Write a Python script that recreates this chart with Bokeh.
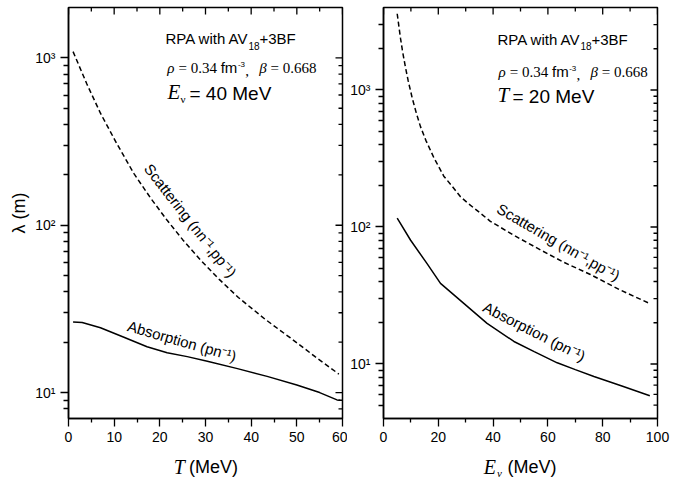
import math
from bokeh.plotting import figure
from bokeh.models import Label, FixedTicker, Range1d
from bokeh.layouts import row, column
from bokeh.embed import file_html
from bokeh.resources import INLINE

# ---------------- data ----------------
# Left panel: E_nu = 40 MeV, lambda vs T
T_scat = [1, 4, 7, 10.5, 14.3, 18, 21.6, 25, 28.9, 33, 37.2, 43, 48.6, 54, 59.2]
lam_scat_T = [1090, 700, 467, 310, 204, 145, 107, 82, 62, 47.5, 37.0, 27.5, 21.2, 16.4, 12.9]
T_abs = [1, 3, 7, 12, 17.2, 21.6, 26, 30.4, 37, 43.5, 50, 55, 58.8, 59.5]
lam_abs_T = [26.4, 26.2, 24.4, 21.5, 18.8, 17.3, 16.4, 15.4, 13.9, 12.5, 11.1, 10.0, 9.04, 9.0]

# Right panel: T = 20 MeV, lambda vs E_nu
E_scat = [5, 6.2, 7, 8, 9, 10.5, 12, 13.5, 15.5, 18.4, 22, 25, 28.1, 31, 35.4, 39, 48,
          57.3, 66, 75.5, 86, 97]
lam_scat_E = [3600, 2390, 1890, 1470, 1170, 870, 676, 540, 427, 320, 235, 199, 166, 148,
              126, 110, 86, 68, 55, 45, 35, 27.7]
E_abs = [5, 9.9, 15.9, 20.8, 29.3, 37.8, 47.6, 55, 63.4, 70, 76.8, 87, 97.2]
lam_abs_E = [116, 80, 54, 38.8, 27.7, 19.8, 14.6, 12.3, 10.2, 9.1, 8.1, 6.9, 5.87]

left_xticks = [0, 10, 20, 30, 40, 50, 60]
left_xminor = [5, 15, 25, 35, 45, 55]
right_xticks = [0, 20, 40, 60, 80, 100]
right_xminor = [10, 30, 50, 70, 90]
yticks = [10, 100, 1000]
ytick_labels = {10: "10¹", 100: "10²", 1000: "10³"}

SANS = "Liberation Sans"
SERIF = "Liberation Serif"
FRAME_TOP = 7
FRAME_BOTTOM = 418
H_MAIN = 449          # main figure height (frame 7..418 + tick labels)
H_TITLE = 29          # strip below holding the x-axis titles
W_L, W_R = 347, 340
BL_L, BR_L = 68, 5    # left figure borders  -> frame 68..342
BL_R, BR_R = 36, 30   # right figure borders -> frame 383..657


def minor_log(lo, hi):
    out = []
    for dec in [1, 10, 100, 1000]:
        for m in range(2, 10):
            v = m * dec
            if lo < v < hi:
                out.append(v)
    return out


def make_fig(width, bl, br, xr, yr, xt, xm):
    p = figure(width=width, height=H_MAIN, x_range=Range1d(*xr), y_range=Range1d(*yr),
               y_axis_type="log", output_backend="svg", toolbar_location=None,
               min_border_left=bl, min_border_right=br, min_border_top=FRAME_TOP,
               min_border_bottom=H_MAIN - FRAME_BOTTOM)
    p.grid.visible = False
    p.background_fill_color = "white"
    p.border_fill_color = "white"
    p.outline_line_color = "black"
    p.outline_line_width = 1.5
    ym = minor_log(*yr)
    xa = p.xaxis[0]
    xa.ticker = FixedTicker(ticks=xt, minor_ticks=xm)
    ya = p.yaxis[0]
    ya.ticker = FixedTicker(ticks=yticks, minor_ticks=ym)
    ya.major_label_overrides = ytick_labels
    for ax in (xa, ya):
        ax.axis_line_width = 1.5
        ax.major_tick_line_width = 1.3
        ax.minor_tick_line_width = 1.3
        ax.major_tick_out = 8
        ax.major_tick_in = 0
        ax.minor_tick_in = 0
        ax.major_label_text_font = SANS
        ax.major_label_text_font_size = "14px"
        ax.major_label_text_color = "black"
        ax.major_label_standoff = 5
    xa.minor_tick_out = 4
    ya.minor_tick_out = 5
    # mirrored inward ticks on the top and right edges
    ymax = yr[1]
    xmax = xr[1]
    p.ray(x=xt, y=[ymax] * len(xt), length=7, length_units="screen",
          angle=-math.pi / 2, line_color="black", line_width=1.3)
    p.ray(x=xm, y=[ymax] * len(xm), length=4, length_units="screen",
          angle=-math.pi / 2, line_color="black", line_width=1.3)
    p.ray(x=[xmax] * len(yticks), y=yticks, length=7, length_units="screen",
          angle=math.pi, line_color="black", line_width=1.3)
    p.ray(x=[xmax] * len(ym), y=ym, length=4, length_units="screen",
          angle=math.pi, line_color="black", line_width=1.3)
    return p


def desc(font):
    return 0.216 if font == SERIF else 0.212


def lab(p, X0, X, Y, text, font=SANS, size=15, style="normal", angle=0.0,
        align="left", baseline="base"):
    # Y is the alphabetic baseline (page px) unless baseline == "middle"
    if baseline == "base":
        yy = FRAME_BOTTOM - (Y + desc(font) * size)
        tb = "bottom"
    else:
        yy = FRAME_BOTTOM - Y
        tb = baseline
    p.add_layout(Label(x=X - X0, y=yy, x_units="screen", y_units="screen",
                       text=text, text_font=font, text_font_size=f"{size}px",
                       text_font_style=style, text_color="black",
                       angle=math.radians(angle), text_align=align,
                       text_baseline=tb))


def title_strip(width, bl, br):
    # frame of the strip is aligned with the main frame above it, so its
    # x data range is the page-x span of that frame
    page_left = (0 if bl == BL_L else W_L) + bl
    page_right = page_left + (width - bl - br)
    t = figure(width=width, height=H_TITLE, x_range=Range1d(page_left, page_right),
               y_range=Range1d(H_MAIN + H_TITLE, H_MAIN), output_backend="svg",
               toolbar_location=None, x_axis_location=None, y_axis_location=None,
               min_border=0, min_border_left=bl, min_border_right=br,
               min_border_top=0, min_border_bottom=0)
    t.grid.visible = False
    t.outline_line_color = None
    t.background_fill_color = "white"
    t.border_fill_color = "white"
    return t


def tlab(t, X, Y, text, font, size, style="normal"):
    t.add_layout(Label(x=X, y=Y + desc(font) * size, text=text, text_font=font,
                       text_font_size=f"{size}px", text_font_style=style,
                       text_color="black", text_align="left", text_baseline="bottom"))


def header(p, X0, s1, b1, s2, b2):
    # line 1: RPA with AV18+3BF
    lab(p, X0, s1, b1, "RPA with AV", SANS, 15)
    lab(p, X0, s1 + 83, b1 + 3.5, "18", SANS, 10)
    lab(p, X0, s1 + 94, b1, "+3BF", SANS, 15)
    # line 2: rho = 0.34 fm^-3, beta = 0.668
    lab(p, X0, s2, b2, "ρ", SERIF, 15, "italic")
    lab(p, X0, s2 + 11.25, b2, "= 0.34", SERIF, 15)
    lab(p, X0, s2 + 53.5, b2, "fm", SANS, 15)
    lab(p, X0, s2 + 70.7, b2 - 7.5, "-3", SANS, 8)
    lab(p, X0, s2 + 78, b2, ",", SERIF, 15)
    lab(p, X0, s2 + 92, b2, "β", SERIF, 15, "italic")
    lab(p, X0, s2 + 103.25, b2, "= 0.668", SERIF, 15)


# ---------------- left panel ----------------
pL = make_fig(W_L, BL_L, BR_L, (0, 60), (7, 2000), left_xticks, left_xminor)
X0L = 68
pL.line(T_scat, lam_scat_T, line_color="black", line_width=1.5, line_dash="5 3")
pL.line(T_abs, lam_abs_T, line_color="black", line_width=1.5)
pL.yaxis.axis_label = "λ (m)"
pL.yaxis.axis_label_text_font = SANS
pL.yaxis.axis_label_text_font_size = "18px"
pL.yaxis.axis_label_text_font_style = "normal"
pL.yaxis.axis_label_text_color = "black"
pL.yaxis.axis_label_standoff = 3

header(pL, X0L, 165, 43.5, 166.7, 72.5)
lab(pL, X0L, 167, 99, "E", SERIF, 21, "italic")
lab(pL, X0L, 180, 102, "ν", SERIF, 11)
lab(pL, X0L, 189, 99, "= 40 MeV", SANS, 19)
lab(pL, X0L, 190, 220, "Scattering (nn⁻¹,pp⁻¹)", SANS, 15, angle=-52,
    align="center", baseline="middle")
lab(pL, X0L, 181.5, 340.5, "Absorption (pn⁻¹)", SANS, 15, angle=-16,
    align="center", baseline="middle")

tL = title_strip(W_L, BL_L, BR_L)
tlab(tL, 173.3, 473, "T", SERIF, 20, "italic")
tlab(tL, 188.5, 473, "(MeV)", SANS, 18)

# ---------------- right panel ----------------
pR = make_fig(W_R, BL_R, BR_R, (0, 100), (4, 4000), right_xticks, right_xminor)
X0R = 383
pR.line(E_scat, lam_scat_E, line_color="black", line_width=1.5, line_dash="5 3")
pR.line(E_abs, lam_abs_E, line_color="black", line_width=1.5)

header(pR, X0R, 497, 44, 498, 76.5)
lab(pR, X0R, 497, 102, "T", SERIF, 21, "italic")
lab(pR, X0R, 512, 102, "= 20 MeV", SANS, 19)
lab(pR, X0R, 558, 241.5, "Scattering (nn⁻¹,pp⁻¹)", SANS, 15, angle=-30,
    align="center", baseline="middle")
lab(pR, X0R, 534, 331, "Absorption (pn⁻¹)", SANS, 15, angle=-27,
    align="center", baseline="middle")

tR = title_strip(W_R, BL_R, BR_R)
tlab(tR, 483.3, 473, "E", SERIF, 20, "italic")
tlab(tR, 496.5, 476, "ν", SERIF, 11, "italic")
tlab(tR, 507, 473, "(MeV)", SANS, 18)

layout = row(column(pL, tL), column(pR, tR))
open("out.html", "w").write(file_html(layout, INLINE))
